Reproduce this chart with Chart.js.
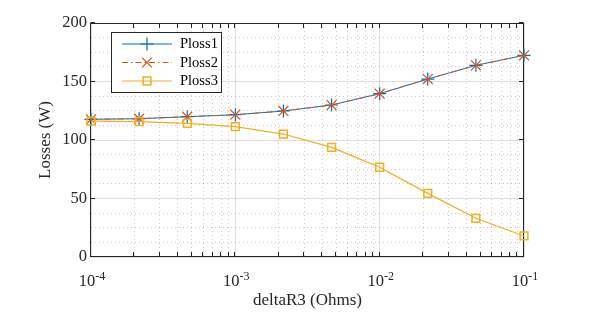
<!DOCTYPE html>
<html><head><meta charset="utf-8">
<script src="https://cdn.jsdelivr.net/npm/chart.js@4"></script>
<style>html,body{margin:0;padding:0;background:#fff}canvas{display:block}</style>
</head><body>
<canvas id="c" width="592" height="323"></canvas>
<script>
// ---- data ----
const deltaR3 = [1e-4, 2.154e-4, 4.642e-4, 1e-3, 2.154e-3, 4.642e-3, 1e-2, 2.154e-2, 4.642e-2, 1e-1];
const ploss1 = [117.7, 118.2, 119.9, 121.6, 124.8, 129.9, 139.6, 152.1, 163.8, 172.4];
const ploss2 = [117.7, 118.2, 119.9, 121.6, 124.8, 129.9, 139.6, 152.1, 163.8, 172.4];
const ploss3 = [116.2, 115.7, 114.2, 111.4, 105.1, 93.7, 76.7, 54.4, 33.1, 18.0];
const seriesNames = ['Ploss1', 'Ploss2', 'Ploss3'];
const xDecades = [1e-4, 1e-3, 1e-2, 1e-1];
const xDecadeExponents = ['-4', '-3', '-2', '-1'];
const yTickLabels = [0, 50, 100, 150, 200];
const xTitle = 'deltaR3 (Ohms)';
const yTitle = 'Losses (W)';

const FONT = "'Liberation Serif', 'Times New Roman', serif";
const AX = '#262626';
const GRID_MAJOR = 'rgba(0,0,0,0.13)';
const GRID_MINOR = 'rgba(0,0,0,0.2)';
const colors = ['#0072BD', '#D95319', '#EDB120'];

const pts = arr => deltaR3.map((x, i) => ({x, y: arr[i]}));

function xTickList() {
  const t = [];
  for (let i = 0; i < xDecades.length - 1; i++) {
    for (let k = 1; k <= 9; k++) t.push({value: k * xDecades[i], major: k === 1});
  }
  t.push({value: xDecades[xDecades.length - 1], major: true});
  return t;
}

const isYMajor = v => yTickLabels.indexOf(v) >= 0;

const frame = {
  id: 'frame',
  beforeDatasetsDraw(chart) {
    const {ctx, chartArea: {left, right, top, bottom}, scales: {x, y}} = chart;
    ctx.save();
    ctx.strokeStyle = AX;
    ctx.lineWidth = 1;
    const L = Math.round(left) - 0.5, R = Math.round(right) - 0.5;
    const T = Math.round(top) + 0.5, B = Math.round(bottom) - 0.5;
    ctx.strokeRect(L, T, R - L, B - T);
    const tl = 4.5;
    ctx.beginPath();
    x.ticks.forEach(t => {
      const px = Math.round(x.getPixelForValue(t.value)) - 0.5;
      ctx.moveTo(px, B); ctx.lineTo(px, B - tl);
      ctx.moveTo(px, T); ctx.lineTo(px, T + tl);
    });
    yTickLabels.forEach(v => {
      const py = Math.round(y.getPixelForValue(v)) - 0.5;
      ctx.moveTo(L, py); ctx.lineTo(L + tl, py);
      ctx.moveTo(R, py); ctx.lineTo(R - tl, py);
    });
    ctx.stroke();
    // x tick labels 10^n
    ctx.fillStyle = AX;
    ctx.textBaseline = 'alphabetic';
    ctx.textAlign = 'left';
    xDecades.forEach((v, i) => {
      const px = x.getPixelForValue(v);
      ctx.font = '16.5px ' + FONT;
      const w1 = ctx.measureText('10').width;
      ctx.font = '12px ' + FONT;
      const w2 = ctx.measureText(xDecadeExponents[i]).width;
      const sx = px - (w1 + w2) / 2 + 1;
      ctx.font = '16.5px ' + FONT;
      ctx.fillText('10', sx, 286);
      ctx.font = '12px ' + FONT;
      ctx.fillText(xDecadeExponents[i], sx + w1, 279.5);
    });
    ctx.restore();
  },
  afterDraw(chart) {
    const {ctx} = chart;
    ctx.save();
    const bx = 111.5, by = 32.5, bw = 110, bh = 60;
    ctx.fillStyle = '#fff';
    ctx.fillRect(bx, by, bw, bh);
    ctx.strokeStyle = AX;
    ctx.lineWidth = 1;
    ctx.strokeRect(bx, by, bw, bh);
    const rows = [44, 62.5, 81];
    chart.data.datasets.forEach((ds, i) => {
      const yy = rows[i];
      ctx.strokeStyle = ds.borderColor;
      ctx.lineWidth = ds.borderWidth;
      ctx.setLineDash(ds.borderDash || []);
      ctx.beginPath();
      ctx.moveTo(122, yy); ctx.lineTo(172, yy);
      ctx.stroke();
      ctx.setLineDash([]);
      ctx.fillStyle = 'rgba(0,0,0,0)';
      ctx.lineWidth = ds.pointBorderWidth;
      Chart.helpers.drawPoint(ctx, {pointStyle: ds.pointStyle, radius: ds.pointRadius, rotation: 0, borderWidth: ds.pointBorderWidth}, 147, yy);
      ctx.fillStyle = '#000';
      ctx.font = '14.5px ' + FONT;
      ctx.textBaseline = 'middle';
      ctx.textAlign = 'left';
      ctx.fillText(ds.label, 180, yy + 0.5);
    });
    ctx.restore();
  }
};

new Chart(document.getElementById('c'), {
  type: 'line',
  data: {
    datasets: [
      {label: seriesNames[0], data: pts(ploss1), borderColor: colors[0], backgroundColor: 'rgba(0,0,0,0)', clip: false,
       borderWidth: 1, pointStyle: 'cross', pointRadius: 6.5, pointBorderWidth: 1.2, pointBorderColor: colors[0], pointBackgroundColor: 'rgba(0,0,0,0)', order: 2},
      {label: seriesNames[1], data: pts(ploss2), borderColor: colors[1], backgroundColor: 'rgba(0,0,0,0)', clip: false,
       borderWidth: 1, borderDash: [6, 3, 1.5, 3], pointStyle: 'crossRot', pointRadius: 7, pointBorderWidth: 1.2, pointBorderColor: colors[1], pointBackgroundColor: 'rgba(0,0,0,0)', order: 1},
      {label: seriesNames[2], data: pts(ploss3), borderColor: colors[2], backgroundColor: 'rgba(0,0,0,0)', clip: false,
       borderWidth: 1.2, pointStyle: 'rect', pointRadius: 5.5, pointBorderWidth: 1.5, pointBorderColor: colors[2], pointBackgroundColor: 'rgba(0,0,0,0)', order: 0}
    ]
  },
  options: {
    responsive: false,
    animation: false,
    events: [],
    devicePixelRatio: 1,
    layout: {padding: {left: 0, top: 23, right: 68, bottom: 0}},
    plugins: {legend: {display: false}, tooltip: {enabled: false}},
    elements: {line: {tension: 0}},
    scales: {
      x: {
        type: 'logarithmic',
        position: 'bottom',
        min: xDecades[0],
        max: xDecades[xDecades.length - 1],
        afterBuildTicks: s => { s.ticks = xTickList(); },
        afterFit: s => { s.height = 66; },
        ticks: {display: false, autoSkip: false},
        grid: {
          drawTicks: false,
          color: c => (c.tick && c.tick.major) ? GRID_MAJOR : GRID_MINOR,
          lineWidth: 1
        },
        border: {display: false, dash: c => (c.tick && !c.tick.major) ? [1, 3] : []},
        title: {display: true, text: xTitle, color: AX, font: {family: FONT, size: 17}, padding: {top: 0, bottom: 12}}
      },
      y: {
        type: 'linear',
        min: 0,
        max: 200,
        afterFit: s => { s.width = 91; },
        ticks: {
          stepSize: 12.5,
          autoSkip: false,
          padding: 4,
          color: AX,
          font: {family: FONT, size: 16.5},
          callback: v => isYMajor(v) ? String(v) : ''
        },
        grid: {
          drawTicks: false,
          color: c => (c.tick && isYMajor(c.tick.value)) ? GRID_MAJOR : GRID_MINOR,
          lineWidth: 1
        },
        border: {display: false, dash: c => (c.tick && !isYMajor(c.tick.value)) ? [1, 3] : []},
        title: {display: true, text: yTitle, color: AX, font: {family: FONT, size: 17}, padding: {top: 35, bottom: 0}}
      }
    }
  },
  plugins: [frame]
});
</script>
</body></html>
